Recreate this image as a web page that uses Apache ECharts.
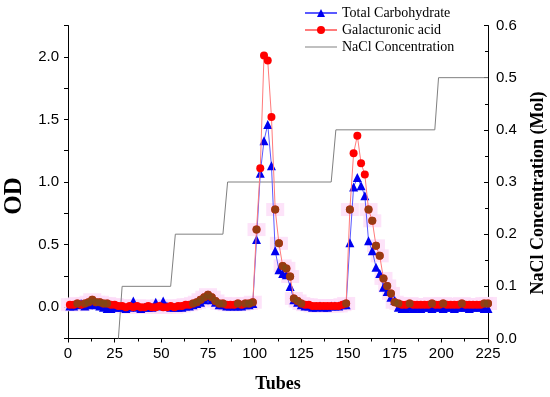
<!DOCTYPE html>
<html><head><meta charset="utf-8">
<script src="https://cdn.jsdelivr.net/npm/echarts@6/dist/echarts.min.js"></script>
<style>html,body{margin:0;padding:0;background:#fff}#c{width:550px;height:397px}</style>
</head><body><div id="c"></div>
<script>
const tubes = [1,3,5,7,9,11,13,15,17,19,21,23,25,27,29,31,33,35,37,39,41,43,45,47,49,51,53,55,57,59,61,63,65,67,69,71,73,75,77,79,81,83,85,87,89,91,93,95,97,99,101,103,105,107,109,111,113,115,117,119,121,123,125,127,129,131,133,135,137,139,141,143,145,147,149,151,153,155,157,159,161,163,165,167,169,171,173,175,177,179,181,183,185,187,189,191,193,195,197,199,201,203,205,207,209,211,213,215,217,219,221,223,225];
const carb = [0.01,0.01,0.02,0.03,0.01, 0.02,0.03,0.02,0.01,0.0, -0.01,-0.01,0.0,0.0,0.0, -0.01,0.0,0.05,0.0,-0.01, 0.0,0.0,0.0,0.04,0.01, 0.05,0.01,0.0,0.0,0.0, 0.0,0.01,0.01,0.02,0.03, 0.04,0.06,0.08,0.06,0.04, 0.02,0.02,0.01,0.01,0.01, 0.01,0.01,0.02,0.02,0.03, 0.54,1.07,1.33,1.46,1.13, 0.45,0.30,0.27,0.26,0.165, 0.06,0.04,0.02,0.01,0.01, 0.0,0.0,0.01,0.0,0.0, 0.01,0.01,0.01,0.02,0.02, 0.515,0.96,1.035,0.97,0.89, 0.53,0.45,0.32,0.27,0.16, 0.125,0.08,0.055,0.0,-0.01, -0.01,0.0,-0.01,0.0,-0.01, 0.0,0.0,-0.01,0.0,0.0, -0.01,0.0,0.0,-0.01,0.0, 0.0,0.0,-0.01,0.0,0.0, 0.0,-0.01,-0.01];
const galact = [0.02,0.02,0.03,0.02,0.03, 0.04,0.06,0.04,0.04,0.03, 0.03,0.02,0.02,0.01,0.01, 0.0,0.01,0.0,0.01,0.0, 0.0,0.01,0.0,0.0,0.01, 0.0,0.0,0.01,0.0,0.01, 0.01,0.02,0.02,0.03,0.04, 0.06,0.08,0.1,0.08,0.05, 0.03,0.03,0.02,0.02,0.02, 0.03,0.02,0.03,0.03,0.04, 0.62,1.11,2.01,1.97,1.52, 0.78,0.51,0.33,0.31,0.245, 0.07,0.05,0.03,0.02,0.02, 0.01,0.01,0.01,0.01,0.01, 0.01,0.01,0.01,0.02,0.03, 0.78,1.23,1.37,1.15,1.06, 0.78,0.69,0.49,0.41,0.23, 0.17,0.11,0.04,0.03,0.02, 0.02,0.03,0.02,0.02,0.02, 0.02,0.02,0.03,0.02,0.02, 0.03,0.02,0.02,0.02,0.02, 0.03,0.02,0.02,0.02,0.02, 0.02,0.03,0.03];
const naclTubes = [27,29,55,57.5,83,85.5,141,143.5,196.5,198.5,225];
const naclValues = [0,0.1,0.1,0.2,0.2,0.3,0.3,0.4,0.4,0.5,0.5];
const odTicks = [-0.25,0,0.25,0.5,0.75,1,1.25,1.5,1.75,2,2.25];
const odLabels = [0,0.5,1,1.5,2];

const pair = (xs, ys) => xs.map((x, i) => [x, ys[i]]);
const carbData = pair(tubes, carb);
const galData = pair(tubes, galact);
const brownData = galData.filter(d => d[1] >= 0.03 && d[1] < 1.0);
const pinkData = galData.filter(d => d[1] < 1.0);

const serif = 'Liberation Serif';
const sans = 'Liberation Sans';
const chart = echarts.init(document.getElementById('c'), null, {renderer: 'canvas'});
chart.setOption({
  animation: false,
  backgroundColor: '#fff',
  grid: {left: 68, right: 62, top: 25.5, bottom: 58.5, containLabel: false, outerBoundsMode: 'none'},
  legend: {
    orient: 'vertical', left: 299, top: 1, itemWidth: 32, itemHeight: 10, itemGap: 3,
    textStyle: {fontFamily: serif, fontSize: 14, color: '#000'},
    data: ['Total Carbohydrate', 'Galacturonic acid',
      {name: 'NaCl Concentration', icon: 'path://M0,0 L32,0 L32,1 L0,1 Z'}]
  },
  xAxis: {
    type: 'value', min: 0, max: 225, interval: 25,
    name: 'Tubes', nameLocation: 'middle', nameGap: 37,
    nameTextStyle: {fontFamily: serif, fontWeight: 'bold', fontSize: 18, color: '#000'},
    axisLine: {onZero: false, lineStyle: {color: '#000', width: 1}},
    axisTick: {length: 4, lineStyle: {color: '#000'}},
    minorTick: {show: true, splitNumber: 2, length: 3, lineStyle: {color: '#000'}},
    axisLabel: {fontFamily: sans, fontSize: 15, color: '#000', margin: 8},
    splitLine: {show: false}, minorSplitLine: {show: false}
  },
  yAxis: [{
    type: 'value', min: -0.25, max: 2.25, position: 'left',
    name: 'OD', nameLocation: 'middle', nameGap: 41, nameRotate: 90,
    nameTextStyle: {fontFamily: serif, fontWeight: 'bold', fontSize: 25, color: '#000', padding: [0, 28, 0, 0]},
    axisLine: {show: true, onZero: false, lineStyle: {color: '#000', width: 1}},
    axisTick: {show: true, length: 4, customValues: odTicks, lineStyle: {color: '#000'}},
    axisLabel: {customValues: odLabels, formatter: v => v.toFixed(1), fontFamily: sans, fontSize: 15, color: '#000', margin: 9},
    splitLine: {show: false}
  }, {
    type: 'value', min: 0, max: 0.6, interval: 0.1, position: 'right',
    name: 'NaCl Concentration (Mol)', nameLocation: 'middle', nameGap: 41, nameRotate: 90,
    nameTextStyle: {fontFamily: serif, fontWeight: 'bold', fontSize: 18, color: '#000', padding: [0, 22, 0, 0]},
    axisLine: {show: true, onZero: false, lineStyle: {color: '#000', width: 1}},
    axisTick: {show: true, inside: true, length: 4, lineStyle: {color: '#000'}},
    minorTick: {show: true, splitNumber: 2, length: 3, lineStyle: {color: '#000'}},
    axisLabel: {formatter: v => v.toFixed(1), fontFamily: sans, fontSize: 15, color: '#000', margin: 8},
    splitLine: {show: false}, minorSplitLine: {show: false}
  }],
  series: [{
    name: 'pink', type: 'scatter', data: pinkData, symbol: 'rect', symbolSize: [18, 13],
    itemStyle: {color: '#fcdcf8'}, z: 1, silent: true
  }, {
    name: 'NaCl Concentration', type: 'line', yAxisIndex: 1, data: pair(naclTubes, naclValues),
    showSymbol: false, symbol: 'none', lineStyle: {color: '#808080', width: 1}, itemStyle: {color: '#808080'}, z: 2
  }, {
    name: 'Total Carbohydrate', type: 'line', data: carbData, symbol: 'triangle', symbolSize: 9,
    itemStyle: {color: '#0000f0'}, lineStyle: {color: '#5a5aff', width: 1}, z: 3
  }, {
    name: 'Galacturonic acid', type: 'line', data: galData, symbol: 'circle', symbolSize: 8,
    itemStyle: {color: '#ff0000'}, lineStyle: {color: '#ff7b7b', width: 1}, z: 4
  }, {
    name: 'brown', type: 'scatter', data: brownData, symbol: 'circle', symbolSize: 8,
    itemStyle: {color: '#7d4a17'}, z: 5
  }]
});
</script>
</body></html>
